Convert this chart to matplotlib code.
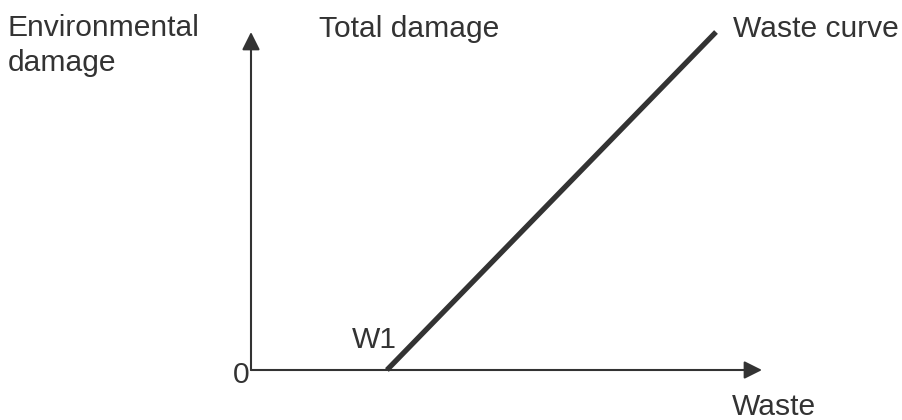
#Sketch of environmental damage against waste, with a threshold W1
import matplotlib
matplotlib.use('Agg')
import matplotlib.pyplot as plt

#Chart data (axis units run 0..10 on both axes)
waste = [2.66, 9.1]
damage = [0.0, 10.0]
x_label = "Waste"
y_label = ["Environmental", "damage"]
curve_label = "Waste curve"
title_label = "Total damage"
threshold_label = "W1"
origin_label = "0"

INK = '#333333'
FS = 21.6
W, H = 902, 420

plt.rcParams['font.family'] = ['Liberation Sans', 'DejaVu Sans']

fig = plt.figure(figsize=(W / 100, H / 100), dpi=100)
fig.patch.set_facecolor('white')

#Axes placed so the origin sits where the arrows meet
ax = fig.add_axes([251 / W, 1 - 370 / H, 511 / W, 338 / H])
ax.set_xlim(0, 10)
ax.set_ylim(0, 10)
ax.axis('off')

#Axis arrows
arrow = dict(arrowstyle='-|>', color=INK, lw=1.5, mutation_scale=27,
             shrinkA=0, shrinkB=0)
ax.annotate('', xy=(1, 0), xytext=(0, 0), xycoords='axes fraction',
            textcoords='axes fraction', arrowprops=arrow, annotation_clip=False)
ax.annotate('', xy=(0, 1), xytext=(0, 0), xycoords='axes fraction',
            textcoords='axes fraction', arrowprops=arrow, annotation_clip=False)

#The waste curve itself
ax.plot(waste, damage, color=INK, lw=3.8, solid_capstyle='butt', clip_on=False)

#Labels, positioned in pixels from the top-left corner
def label(px, py, s, ha='left'):
    fig.text(px / W, 1 - py / H, s, ha=ha, va='baseline', color=INK, fontsize=FS)

label(8, 36, y_label[0])
label(8, 71, y_label[1])
label(319, 37, title_label)
label(733, 37, curve_label)
label(352, 348, threshold_label)
label(250, 383, origin_label, ha='right')
label(732, 415, x_label)

fig.savefig('out.png', dpi=100, facecolor='white')
